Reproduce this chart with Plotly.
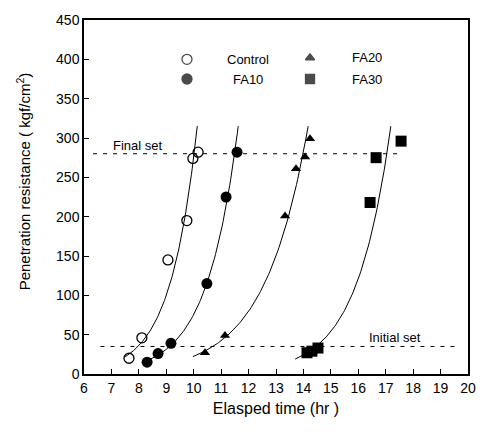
import numpy as np
import plotly.graph_objects as go

# ---- data ----
control_t = [7.64, 8.11, 9.06, 9.75, 9.97, 10.16]
control_p = [20, 46, 145, 195, 274, 282]
fa10_t = [8.30, 8.70, 9.17, 10.48, 11.18, 11.58]
fa10_p = [15, 26, 39, 115, 225, 282]
fa20_t = [10.41, 11.14, 13.33, 13.73, 14.06, 14.24]
fa20_p = [27, 49, 201, 261, 276, 299]
fa30_t = [14.13, 14.31, 14.53, 16.43, 16.65, 17.56]
fa30_p = [27, 29, 33, 218, 275, 296]
curve_start = {"Control": 7.5, "FA10": 8.2, "FA20": 9.97, "FA30": 13.7}
INITIAL_SET = 35
FINAL_SET = 280
x_ticks = list(range(6, 21))
y_ticks = list(range(0, 451, 50))

FONT = "Liberation Sans, Arial, sans-serif"
fig = go.Figure()

series = [
    ("Control", control_t, control_p, dict(symbol="circle-open", size=10, color="black", line=dict(width=1.3, color="black"))),
    ("FA10", fa10_t, fa10_p, dict(symbol="circle", size=11, color="black")),
    ("FA20", fa20_t, fa20_p, dict(symbol="triangle-up", size=9, color="black")),
    ("FA30", fa30_t, fa30_p, dict(symbol="square", size=11, color="black")),
]

for name, t, p, mk in series:
    t = np.array(t, float); p = np.array(p, float)
    b, lna = np.polyfit(t, np.log(p), 1)
    x_end = (np.log(315) - lna) / b
    xs = np.linspace(curve_start[name], x_end, 100)
    fig.add_trace(go.Scatter(x=xs, y=np.exp(lna + b * xs), mode="lines",
                             line=dict(color="black", width=1), showlegend=False, hoverinfo="skip"))
    fig.add_trace(go.Scatter(x=t, y=p, mode="markers", marker=mk, name=name, showlegend=False))

# set lines
fig.add_trace(go.Scatter(x=[6.33, 17.6], y=[FINAL_SET, FINAL_SET], mode="lines",
                         line=dict(color="black", width=1, dash="4px,6px"), showlegend=False))
fig.add_trace(go.Scatter(x=[6.6, 19.6], y=[INITIAL_SET, INITIAL_SET], mode="lines",
                         line=dict(color="black", width=1, dash="4px,6px"), showlegend=False))

# manual legend
leg_x = [9.755, 9.755, 14.24, 14.24]
leg_y = [400, 375, 402, 375]
leg_sym = ["circle-open", "circle", "triangle-up", "square"]
leg_size = [10, 10, 8, 9]
fig.add_trace(go.Scatter(x=leg_x, y=leg_y, mode="markers",
                         marker=dict(symbol=leg_sym, size=leg_size, color="black",
                                     line=dict(width=1.3, color="black")),
                         showlegend=False, hoverinfo="skip"))
ann = [
    dict(x=11.98, y=400, text="Control", xanchor="center"),
    dict(x=11.98, y=375, text="FA10", xanchor="center"),
    dict(x=15.70, y=402, text="FA20", xanchor="left"),
    dict(x=15.70, y=375, text="FA30", xanchor="left"),
    dict(x=7.97, y=291, text="Final set", xanchor="center"),
    dict(x=17.34, y=46, text="Initial set", xanchor="center"),
]
for a in ann:
    fig.add_annotation(x=a["x"], y=a["y"], text=a["text"], xanchor=a["xanchor"], yanchor="middle",
                       showarrow=False, font=dict(family=FONT, size=13, color="black"))

# y axis title (placed like the reference, slightly above centre)
fig.add_annotation(xref="paper", yref="paper", x=-0.159, y=0.544, textangle=-90,
                   text="Penetration resistance ( kgf/cm<sup>2</sup>)", showarrow=False,
                   xanchor="center", yanchor="middle",
                   font=dict(family=FONT, size=15, color="black"))

axis_common = dict(showgrid=False, zeroline=False, showline=True, linecolor="black", linewidth=1.5,
                   mirror=True, ticks="inside", ticklen=5, tickwidth=1.2, tickcolor="black",
                   tickfont=dict(family=FONT, size=14, color="black"))
fig.update_xaxes(range=[6, 20], tickvals=x_ticks, ticktext=[str(v) for v in x_ticks],
                 title=dict(text="Elasped time (hr )", font=dict(family=FONT, size=16, color="black"), standoff=8),
                 **axis_common)
fig.update_yaxes(range=[0, 450], tickvals=y_ticks, ticktext=[str(v) for v in y_ticks],
                 **axis_common)
fig.update_layout(width=489, height=433, margin=dict(l=84, r=21, t=14, b=59),
                  plot_bgcolor="white", paper_bgcolor="white", showlegend=False)
fig.write_html("out.html")
